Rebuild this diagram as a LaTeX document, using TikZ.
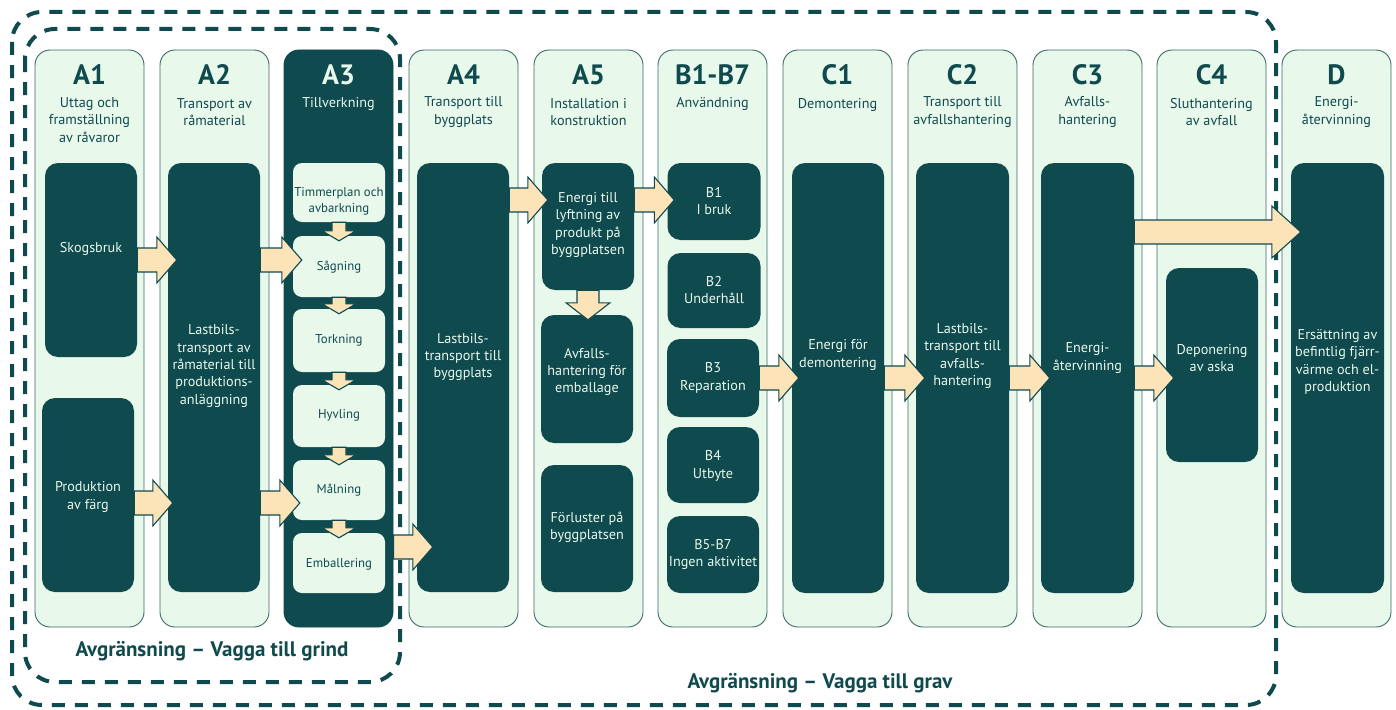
\documentclass[tikz,border=0pt]{standalone}
\usepackage{fontspec}
\setmainfont{PT Sans}
\usetikzlibrary{calc}
\definecolor{dk}{HTML}{0F4A4F}
\definecolor{lt}{HTML}{E8F8EA}
\definecolor{cr}{HTML}{FDE3B8}
\definecolor{bd}{HTML}{3A6A68}
\tikzset{
  col/.style={draw=bd, line width=0.9pt, fill=lt, rounded corners=15pt, minimum width=109pt, minimum height=577pt, inner sep=0pt},
  colD/.style={col, draw=dk, fill=dk},
  dbox/.style={fill=dk, rounded corners=13pt, inner sep=0pt},
  lbox/.style={fill=lt, rounded corners=9pt, inner sep=0pt},
  hdr/.style={font={\fontsize{28}{30}\selectfont\bfseries}, text=dk, inner sep=0pt},
  hdrL/.style={hdr, text=lt},
  sub/.style={font={\fontsize{14.2}{17.3}\selectfont}, text=dk, align=center, inner sep=0pt},
  subL/.style={sub, text=lt},
  txt/.style={font={\fontsize{14.2}{17.3}\selectfont}, text=lt, align=center, inner sep=0pt},
  stxt/.style={font={\fontsize{12.8}{16}\selectfont}, text=dk, align=center, inner sep=0pt},
  barrow/.style={fill=cr, draw=dk, line width=1.1pt, line join=miter},
  dashline/.style={draw=dk, line width=4pt, dash pattern=on 13pt off 10pt, rounded corners=30pt},
  blabel/.style={font={\fontsize{21}{23}\selectfont\bfseries}, text=dk, inner sep=0pt}
}
% horizontal block arrow: src, dst, y, overshoot, head length, head half width
\newcommand\harr[6]{\draw[barrow] let \p1=(#1.east),\p2=(#2.west),\p3=(0,#3) in
  (\x1,\y3+12pt) -- (\x2+#4pt-#5pt,\y3+12pt) -- (\x2+#4pt-#5pt,\y3+#6pt) -- (\x2+#4pt,\y3)
  -- (\x2+#4pt-#5pt,\y3-#6pt) -- (\x2+#4pt-#5pt,\y3-12pt) -- (\x1,\y3-12pt) -- cycle;}
% vertical block arrow: src, dst, shaft half, head half, head length, overshoot
\newcommand\varr[6]{\draw[barrow] let \p1=(#1.south),\p2=(#2.north) in
  (\x1-#3pt,\y1) -- (\x1-#3pt,\y2-#6pt+#5pt) -- (\x1-#4pt,\y2-#6pt+#5pt) -- (\x1,\y2-#6pt)
  -- (\x1+#4pt,\y2-#6pt+#5pt) -- (\x1+#3pt,\y2-#6pt+#5pt) -- (\x1+#3pt,\y1) -- cycle;}
\begin{document}
\begin{tikzpicture}[x=1pt,y=-1pt]
\useasboundingbox[fill=white] (0,0) rectangle (1396,709);
% columns
\node[col]  (a1) at (89.5,338.5) {};
\node[col]  (a2) at (214.5,338.5) {};
\node[colD] (a3) at (338.5,338.5) {};
\node[col]  (a4) at (463.5,338.5) {};
\node[col]  (a5) at (588.5,338.5) {};
\node[col]  (bb) at (712.5,338.5) {};
\node[col]  (c1) at (837.5,338.5) {};
\node[col]  (c2) at (962.5,338.5) {};
\node[col]  (c3) at (1087.5,338.5) {};
\node[col]  (c4) at (1211.5,338.5) {};
\node[col]  (dd) at (1336.5,338.5) {};
% headers
\node[hdr]  (h1) at (89.5,75) {A1};
\node[hdr]  (h2) at (214.5,75) {A2};
\node[hdrL] (h3) at (338.5,75) {A3};
\node[hdr]  (h4) at (463.5,75) {A4};
\node[hdr]  (h5) at (588.5,75) {A5};
\node[hdr]  (hb) at (712.5,75) {B1-B7};
\node[hdr]  (hc1) at (837.5,75) {C1};
\node[hdr]  (hc2) at (962.5,75) {C2};
\node[hdr]  (hc3) at (1087.5,75) {C3};
\node[hdr]  (hc4) at (1211.5,75) {C4};
\node[hdr]  (hd) at (1336.5,75) {D};
\node[sub]  (s1) at (89.5,120) {Uttag och\\framställning\\av råvaror};
\node[sub]  (s2) at (214.5,112) {Transport av\\råmaterial};
\node[subL] (s3) at (338.5,103.5) {Tillverkning};
\node[sub]  (s4) at (463.5,112) {Transport till\\byggplats};
\node[sub]  (s5) at (588.5,112) {Installation i\\konstruktion};
\node[sub]  (sb) at (712.5,103.5) {Användning};
\node[sub]  (sc1) at (837.5,104.5) {Demontering};
\node[sub]  (sc2) at (962.5,112) {Transport till\\avfallshantering};
\node[sub]  (sc3) at (1087.5,112) {Avfalls-\\hantering};
\node[sub]  (sc4) at (1211.5,112) {Sluthantering\\av avfall};
\node[sub]  (sd) at (1336.5,112) {Energi-\\återvinning};
% dark boxes
\node[dbox, minimum width=92pt, minimum height=194pt] (sk) at (91,260) {};
\node[dbox, minimum width=92pt, minimum height=194pt] (pf) at (88,495) {};
\node[dbox, minimum width=92pt, minimum height=429pt] (a2b) at (214,377.5) {};
\node[dbox, minimum width=92pt, minimum height=429pt] (a4b) at (463,377.5) {};
\node[dbox, minimum width=92pt, minimum height=127pt] (en) at (588,226.5) {};
\node[dbox, minimum width=92pt, minimum height=128pt] (av) at (587,379) {};
\node[dbox, minimum width=92pt, minimum height=127pt] (fo) at (587,528.5) {};
\node[dbox, minimum width=93pt, minimum height=77pt] (b1) at (714,201.5) {};
\node[dbox, minimum width=93pt, minimum height=75pt] (b2) at (714,290.5) {};
\node[dbox, minimum width=92pt, minimum height=78pt] (b3) at (713,378) {};
\node[dbox, minimum width=92pt, minimum height=76pt] (b4) at (713,465) {};
\node[dbox, minimum width=92pt, minimum height=77pt] (b5) at (713,554.5) {};
\node[dbox, minimum width=92pt, minimum height=430pt] (c1b) at (838,378) {};
\node[dbox, minimum width=93pt, minimum height=430pt] (c2b) at (962.5,378) {};
\node[dbox, minimum width=93pt, minimum height=430pt] (c3b) at (1087.5,378) {};
\node[dbox, minimum width=92pt, minimum height=194pt] (dep) at (1212,365) {};
\node[dbox, minimum width=93pt, minimum height=430pt] (db) at (1337.5,378) {};
% A3 light boxes
\node[lbox, minimum width=92pt, minimum height=59pt] (t1) at (339,192.5) {};
\node[lbox, minimum width=92pt, minimum height=61pt] (t2) at (339,266.5) {};
\node[lbox, minimum width=92pt, minimum height=63pt] (t3) at (339,340.5) {};
\node[lbox, minimum width=92pt, minimum height=62pt] (t4) at (339,416) {};
\node[lbox, minimum width=92pt, minimum height=60pt] (t5) at (339,490) {};
\node[lbox, minimum width=92pt, minimum height=60pt] (t6) at (339,563) {};
% texts
\node[txt] (tsk) at (91,249) {Skogsbruk};
\node[txt] (tpf) at (88,497) {Produktion\\av färg};
\node[txt] (ta2) at (214,366) {Lastbils-\\transport av\\råmaterial till\\produktions-\\anläggning};
\node[txt] (ta4) at (463,357) {Lastbils-\\transport till\\byggplats};
\node[txt] (ten) at (588,225) {Energi till\\lyftning av\\produkt på\\byggplatsen};
\node[txt] (tav) at (587,372) {Avfalls-\\hantering för\\emballage};
\node[txt] (tfo) at (587,527) {Förluster på\\byggplatsen};
\node[txt] (tb1) at (714,201) {B1\\I bruk};
\node[txt] (tb2) at (714,290) {B2\\Underhåll};
\node[txt] (tb3) at (713,378) {B3\\Reparation};
\node[txt] (tb4) at (713,466) {B4\\Utbyte};
\node[txt] (tb5) at (713,554.5) {B5-B7\\Ingen aktivitet};
\node[txt] (tc1) at (838,355) {Energi för\\demontering};
\node[txt] (tc2) at (962.5,356) {Lastbils-\\transport till\\avfalls-\\hantering};
\node[txt] (tc3) at (1087.5,358) {Energi-\\återvinning};
\node[txt] (tdep) at (1212,358) {Deponering\\av aska};
\node[txt] (tdd) at (1337.5,362) {Ersättning av\\befintlig fjärr-\\värme och el-\\produktion};
\node[stxt] (tt1) at (339,201) {Timmerplan och\\avbarkning};
\node[stxt] (tt2) at (339,267) {Sågning};
\node[stxt] (tt3) at (339,340) {Torkning};
\node[stxt] (tt4) at (339,415) {Hyvling};
\node[stxt] (tt5) at (339,490) {Målning};
\node[stxt] (tt6) at (339,564) {Emballering};
% dashed boundaries
\draw[dashline] (12,12) rectangle (1276,705);
\draw[dashline] (25,29) rectangle (400,682);
\node[blabel] (lgrind) at (212,651) {Avgränsning – Vagga till grind};
\node[blabel] (lgrav) at (820,683) {Avgränsning – Vagga till grav};
% arrows
\varr{t1}{t2}{7}{17}{10}{5}
\varr{t2}{t3}{7}{17}{10}{5}
\varr{t3}{t4}{7}{17}{10}{5}
\varr{t4}{t5}{7}{17}{10}{5}
\varr{t5}{t6}{7}{17}{10}{5}
\varr{en}{av}{11}{22}{17}{5}
\harr{sk}{a2b}{260}{9}{20}{23}
\harr{a2b}{t2}{260}{9}{20}{23}
\harr{pf}{a2b}{503}{5}{20}{23}
\harr{a2b}{t5}{503}{7}{20}{23}
\harr{a3}{a4b}{547}{16}{20}{23}
\harr{a4b}{en}{200}{6}{20}{23}
\harr{en}{b1}{200}{7}{20}{23}
\harr{b3}{c1b}{378}{7}{20}{23}
\harr{c1b}{c2b}{378}{9}{20}{23}
\harr{c2b}{c3b}{378}{9}{20}{23}
\harr{c3b}{dep}{378}{8}{20}{23}
\harr{c3b}{db}{232}{10}{29}{26}
\end{tikzpicture}
\end{document}
